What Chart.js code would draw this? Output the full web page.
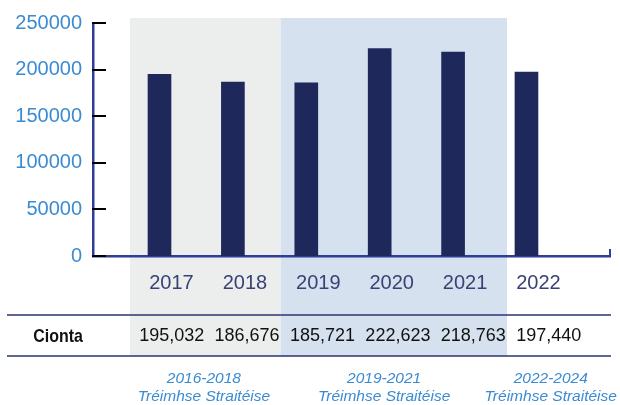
<!DOCTYPE html>
<html lang="ga">
<head>
<meta charset="UTF-8">
<title>Cionta 2017-2022</title>
<script src="https://cdn.jsdelivr.net/npm/chart.js"></script>
<style>
    html, body { margin: 0; padding: 0; background: #fff; }
    #wrap { width: 620px; height: 405px; position: relative; }
</style>
</head>
<body>
<div id="wrap"><canvas id="chart"></canvas></div>
<script>
    // Data
    const years = ['2017', '2018', '2019', '2020', '2021', '2022'];
    const offences = [195032, 186676, 185721, 222623, 218763, 197440];
    const yTicks = [0, 50000, 100000, 150000, 200000, 250000];
    const periods = ['2016-2018', '2019-2021', '2022-2024'];
    const periodSubtitle = 'Tréimhse Straitéise';
    const periodCols = [[0, 2], [2, 5], [5, 6]];   // which table columns each period covers
    const rowLabel = 'Cionta';

    // Layout / colours
    const NAVY = '#1f285b';
    const AXIS = '#2e3d98';
    const BLUE_TXT = '#3b8bd2';
    const table = { left: 130, colW: 75.4, top: 315, bottom: 356, lineL: 7, lineR: 611, shadeTop: 18 };
    const periodLabelCol = [0.98, 3.37, 5.58];
    const shadeColors = ['#eceeed', '#d5e1ee', null];
    const labelFont = '20px "Liberation Sans", Arial, sans-serif';

    const tablePlugin = {
        id: 'tablePlugin',
        beforeDraw(chart) {
            const ctx = chart.ctx;
            ctx.save();
            periodCols.forEach((pc, i) => {
                if (!shadeColors[i]) return;
                ctx.fillStyle = shadeColors[i];
                const x0 = table.left + pc[0] * table.colW;
                const x1 = table.left + pc[1] * table.colW;
                ctx.fillRect(x0, table.shadeTop, x1 - x0, table.bottom - table.shadeTop);
            });
            ctx.restore();
        },
        afterDraw(chart) {
            const ctx = chart.ctx;
            const xs = chart.scales.x, ys = chart.scales.y;
            const area = chart.chartArea;
            ctx.save();

            // inward tick marks on the y axis
            ctx.strokeStyle = '#000';
            ctx.lineWidth = 2;
            yTicks.forEach(v => {
                const y = Math.round(ys.getPixelForValue(v));
                ctx.beginPath();
                ctx.moveTo(area.left - 1, y);
                ctx.lineTo(area.left + 13, y);
                ctx.stroke();
            });

            // small hook at the right end of the x axis
            ctx.strokeStyle = AXIS;
            ctx.beginPath();
            ctx.moveTo(area.right, ys.getPixelForValue(0) + 1);
            ctx.lineTo(area.right, ys.getPixelForValue(0) - 7);
            ctx.stroke();

            // year labels
            ctx.font = labelFont;
            ctx.fillStyle = '#3a4275';
            ctx.textAlign = 'center';
            ctx.textBaseline = 'middle';
            years.forEach((y, i) => {
                ctx.fillText(y, xs.getPixelForValue(i) + 12, 283);
            });

            // table lines
            ctx.strokeStyle = '#2a3370';
            ctx.lineWidth = 1.6;
            [table.top, table.bottom].forEach(y => {
                ctx.beginPath();
                ctx.moveTo(table.lineL, y);
                ctx.lineTo(table.lineR, y);
                ctx.stroke();
            });

            // row label (condensed bold) and values
            const rowY = (table.top + table.bottom) / 2 + 1;
            ctx.fillStyle = '#111';
            ctx.save();
            ctx.translate(58, rowY);
            ctx.scale(0.84, 1);
            ctx.font = 'bold 19px "Liberation Sans", Arial, sans-serif';
            ctx.fillText(rowLabel, 0, 0);
            ctx.restore();
            ctx.font = '18px "Liberation Sans", Arial, sans-serif';
            offences.forEach((v, i) => {
                const cx = table.left + (i + 0.5) * table.colW + 4;
                ctx.fillText(v.toLocaleString('en-US'), cx, rowY);
            });

            // strategy period captions
            ctx.fillStyle = BLUE_TXT;
            ctx.font = 'italic 15.5px "Liberation Sans", Arial, sans-serif';
            periods.forEach((p, i) => {
                const cx = table.left + periodLabelCol[i] * table.colW;
                ctx.fillText(p, cx, 379);
                ctx.fillText(periodSubtitle, cx, 397);
            });
            ctx.restore();
        }
    };

    new Chart(document.getElementById('chart'), {
        type: 'bar',
        data: {
            datasets: [{
                label: rowLabel,
                data: offences.map((v, i) => ({ x: i, y: v })),
                backgroundColor: NAVY,
                barThickness: 23
            }]
        },
        options: {
            responsive: true,
            maintainAspectRatio: false,
            animation: false,
            layout: { padding: { top: 23, right: 10, bottom: 149, left: 0 } },
            plugins: { legend: { display: false }, tooltip: { enabled: false } },
            scales: {
                x: {
                    type: 'linear',
                    offset: false,
                    min: -0.906,
                    max: 6.138,
                    grid: { display: false, drawTicks: false, offset: false },
                    border: { display: true, color: AXIS, width: 2.5 },
                    ticks: { display: false },
                    afterFit(s) { s.height = 0; }
                },
                y: {
                    min: 0,
                    max: 250000,
                    afterBuildTicks(s) { s.ticks = yTicks.map(v => ({ value: v })); },
                    grid: { display: false, drawTicks: false },
                    border: { display: true, color: AXIS, width: 2.5 },
                    ticks: {
                        color: BLUE_TXT,
                        padding: 11,
                        font: { family: '"Liberation Sans", Arial, sans-serif', size: 20 },
                        callback: v => String(v)
                    },
                    afterFit(s) { s.width = 93; }
                }
            }
        },
        plugins: [tablePlugin]
    });
</script>
</body>
</html>
